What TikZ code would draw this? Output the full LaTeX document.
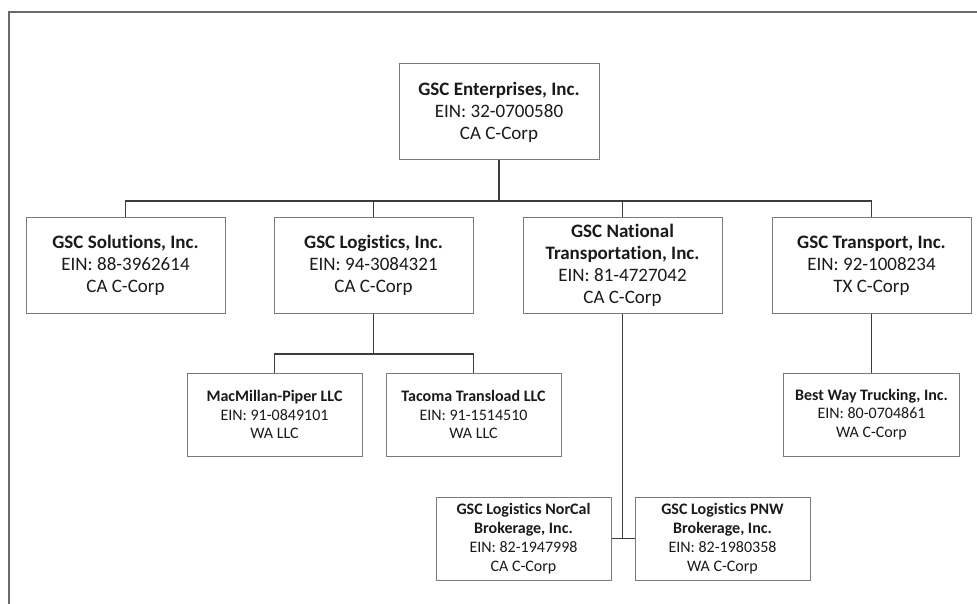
\documentclass[tikz,border=0pt]{standalone}
\usepackage{fontspec}
\setmainfont{Carlito}[Ligatures={NoCommon,NoRare}]
\definecolor{txt}{HTML}{1A1A1A}
\definecolor{boxline}{HTML}{7A7A7A}
\definecolor{conn}{HTML}{3C3C3C}
\definecolor{frame}{HTML}{6A6A6A}
\begin{document}
\begin{tikzpicture}[x=1pt,y=-1pt,
  bigbox/.style={draw=boxline,line width=1pt,fill=white,rectangle,align=center,
    text=txt,minimum width=199pt,minimum height=95pt,inner sep=0pt,
    font=\fontsize{19}{22}\selectfont},
  smallbox/.style={draw=boxline,line width=1pt,fill=white,rectangle,align=center,
    text=txt,minimum width=175pt,minimum height=83pt,inner sep=0pt,
    font=\fontsize{16}{18.8}\selectfont},
  link/.style={draw=conn,line width=1.3pt}]
\useasboundingbox (0,0) rectangle (977,604);
\fill[white] (0,0) rectangle (977,604);
\draw[frame,line width=2pt] (9,606) -- (9,12) -- (979,12);

\node[bigbox,minimum width=200pt,minimum height=96pt] (top) at (499,112)
  {\textbf{GSC Enterprises, Inc.}\\EIN: 32-0700580\\CA C-Corp};
\node[bigbox] (sol) at (125.5,265.5)
  {\textbf{GSC Solutions, Inc.}\\EIN: 88-3962614\\CA C-Corp};
\node[bigbox] (log) at (373.5,265.5)
  {\textbf{GSC Logistics, Inc.}\\EIN: 94-3084321\\CA C-Corp};
\node[bigbox] (nat) at (622.5,265.5)
  {\textbf{GSC National}\\\textbf{Transportation, Inc.}\\EIN: 81-4727042\\CA C-Corp};
\node[bigbox] (tra) at (871.5,265.5)
  {\textbf{GSC Transport, Inc.}\\EIN: 92-1008234\\TX C-Corp};

\node[smallbox] (mac) at (274.5,414.5)
  {\textbf{MacMillan-Piper LLC}\\EIN: 91-0849101\\WA LLC};
\node[smallbox] (tac) at (473.5,414.5)
  {\textbf{Tacoma Transload LLC}\\EIN: 91-1514510\\WA LLC};
\node[smallbox,minimum width=176pt] (bw) at (871.5,414.5)
  {\textbf{Best Way Trucking, Inc.}\\EIN: 80-0704861\\WA C-Corp};
\node[smallbox] (nor) at (523.5,538.5)
  {\textbf{GSC Logistics NorCal}\\\textbf{Brokerage, Inc.}\\EIN: 82-1947998\\CA C-Corp};
\node[smallbox] (pnw) at (722.5,538.5)
  {\textbf{GSC Logistics PNW}\\\textbf{Brokerage, Inc.}\\EIN: 82-1980358\\WA C-Corp};

\coordinate (bus) at (499,201);
\draw[link] (top.south) -- (bus);
\draw[link] (sol.north) -- (sol.north |- bus) -- (tra.north |- bus) -- (tra.north);
\draw[link] (log.north) -- (log.north |- bus);
\draw[link] (nat.north) -- (nat.north |- bus);
\coordinate (sub) at (373.5,354);
\draw[link] (log.south) -- (sub);
\draw[link] (mac.north) -- (mac.north |- sub) -- (tac.north |- sub) -- (tac.north);
\draw[link] (tra.south) -- (bw.north);
\draw[link] (nat.south) -- (nat.south |- nor.east);
\draw[link] (nor.east) -- (pnw.west);
\end{tikzpicture}
\end{document}
